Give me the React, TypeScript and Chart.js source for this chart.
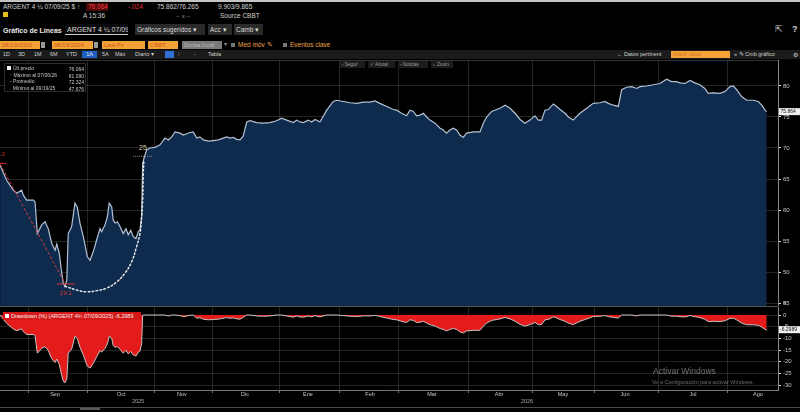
import React, { useEffect, useRef } from "react";
import { Chart, registerables } from "chart.js";

Chart.register(...registerables);

const FONT = '"Liberation Sans", Arial, sans-serif';

// x unit: position on the chart's time axis, in days since 08/19/2025
const priceDays = [
  -0.8, 2.3, 5.5, 7.1, 9.5, 10.3, 11.9, 15.1, 15.9, 17.0, 19.1, 20.7, 22.2, 23.9, 25.5, 26.3, 27.5, 28.7, 29.4, 30.2,
  31.1, 31.8, 33.4, 35.0, 36.1, 37.4, 39.0, 40.9, 42.2, 43.8, 45.4, 47.0, 47.8, 49.4, 50.5, 51.4, 52.6, 53.3, 54.2, 55.3,
  56.6, 58.1, 59.4, 60.5, 61.7, 62.9, 64.2, 65.3, 66.1, 66.9, 67.4, 68.0, 69.3, 70.9, 73.3, 75.7, 78.1, 79.7, 81.3, 82.9,
  85.3, 86.8, 88.5, 90.0, 91.6, 93.3, 94.8, 96.4, 98.8, 101.2, 103.6, 106.0, 107.6, 109.2, 110.8, 112.4, 114.0, 115.5, 117.2, 118.8,
  122.0, 125.1, 128.3, 131.5, 133.9, 136.3, 139.5, 141.1, 142.7, 144.3, 146.7, 148.3, 149.9, 152.2, 155.5, 158.6, 160.2, 163.4, 166.6, 169.8,
  173.0, 176.2, 178.6, 180.9, 184.2, 187.3, 188.9, 191.3, 193.7, 195.3, 196.9, 198.5, 200.1, 201.7, 203.3, 204.9, 207.3, 209.7, 211.2, 212.8,
  214.4, 216.0, 217.6, 219.2, 220.8, 222.4, 225.6, 228.8, 230.4, 232.0, 234.4, 236.8, 238.4, 240.8, 243.2, 245.6, 248.0, 250.3, 252.7, 255.1,
  256.7, 258.3, 259.9, 261.5, 263.9, 265.5, 267.1, 269.5, 271.1, 273.4, 276.6, 279.9, 283.0, 286.2, 288.6, 290.2, 292.6, 295.0, 296.6, 299.0,
  301.4, 303.8, 305.4, 308.6, 311.7, 314.9, 318.1, 320.5, 322.9, 324.5, 326.9, 329.3, 331.6, 334.0, 336.4, 338.0, 340.4, 343.6, 346.0, 348.4,
  350.0, 351.6, 354.0, 356.4, 359.6, 362.0, 363.6, 365.2, 366.0,
];
const priceValues = [
  67.2, 64.8, 63.2, 62.7, 63.2, 62.4, 61.6, 61.6, 61.3, 56.2, 57.6, 58.1, 57.0, 54.6, 53.5, 54.5, 53.0, 49.8, 48.2, 47.676,
  48.7, 56.2, 57.3, 61.1, 60.5, 57.9, 55.7, 52.5, 51.9, 53.3, 55.2, 57.0, 56.5, 57.6, 58.9, 61.1, 60.5, 58.4, 57.9, 58.1,
  57.3, 56.2, 57.0, 56.0, 56.7, 55.7, 55.4, 56.5, 56.8, 58.9, 67.5, 68.3, 69.7, 70.0, 70.1, 70.5, 71.6, 71.3, 71.8, 72.6,
  72.4, 72.1, 72.3, 72.5, 72.6, 71.6, 71.8, 71.3, 71.1, 71.2, 71.3, 71.6, 71.8, 71.6, 71.7, 71.4, 71.3, 71.9, 74.2, 74.4,
  74.1, 74.0, 74.1, 74.4, 74.8, 74.5, 74.1, 74.5, 74.2, 74.1, 74.5, 74.2, 74.6, 74.2, 76.1, 77.5, 77.7, 77.5, 77.3, 77.2,
  77.4, 77.4, 77.6, 77.2, 76.7, 76.2, 76.1, 75.6, 75.2, 76.1, 75.9, 75.2, 75.3, 75.6, 75.0, 74.5, 74.0, 73.2, 72.9, 72.4,
  72.9, 73.2, 72.9, 72.1, 71.7, 72.4, 72.6, 72.6, 74.0, 75.0, 75.9, 76.2, 76.4, 76.9, 76.4, 75.6, 74.6, 74.0, 74.5, 75.2,
  74.5, 74.5, 76.1, 76.2, 77.1, 76.7, 76.2, 75.6, 75.0, 74.5, 75.6, 76.4, 77.2, 77.3, 77.5, 77.2, 76.9, 76.7, 79.4, 79.8,
  79.9, 79.6, 79.9, 80.0, 80.2, 80.4, 81.09, 80.7, 80.7, 80.5, 80.4, 80.9, 80.5, 80.2, 79.6, 78.8, 78.9, 78.8, 79.1, 79.9,
  80.0, 79.4, 78.3, 77.7, 77.7, 77.5, 76.9, 76.1, 75.864,
];

// dotted recovery path (trough -> recovery)
const recoveryDays = [30.2, 35.8, 40.6, 45.4, 50.2, 55.0, 58.9, 62.2, 64.5, 66.1, 66.9, 67.4, 67.7, 68.0];
const recoveryValues = [47.7, 47.1, 46.8, 47.0, 47.4, 48.4, 49.8, 51.7, 54.1, 56.2, 58.9, 61.6, 65.9, 68.1];

// red dashed peak -> trough line
const peakTroughDays = [-0.8, 30.2];
const peakTroughValues = [67.4, 48.2];

const monthStarts = [13.0, 41.2, 73.3, 100.6, 133.1, 161.8, 190.0, 223.1, 253.7, 283.8, 314.0, 347.0];
const monthLabels = ["Sep", "Oct", "Nov", "Dic", "Ene", "Feb", "Mar", "Abr", "May", "Jun", "Jul", "Ago"];
const monthLabelDays = [25.5, 57.2, 86.2, 116.4, 146.5, 176.2, 205.8, 237.9, 268.5, 298.2, 330.7, 361.8];
const yearLabels = ["2025", "2026"];
const yearLabelDays = [65.2, 251.3];

const priceTicks = [45, 50, 55, 60, 65, 70, 75, 80];
const drawdownTicks = [5, 0, -5, -10, -15, -20, -25, -30];

const lastPriceText = "75.864";
const lastPrice = 75.864;
const lastDrawdownText = "-6.2989";
const lastDrawdown = -6.2989;
const maxDrawdownText = "29.1";
const peakText = "67.2";
const recoveryText = "25";

const X_MIN = -0.86;
const X_MAX = 371.4;

function drawdownSeries(values: number[]): number[] {
  let peak = -Infinity;
  return values.map((v) => {
    peak = Math.max(peak, v);
    return (v / peak - 1) * 100;
  });
}

const GRID = "rgba(255,255,255,0.14)";

const mainPlugin = {
  id: "mainAnn",
  afterDraw(chart: any) {
    const { ctx, chartArea, scales } = chart;
    const xs = scales.x;
    const ys = scales.y;
    ctx.save();
    // top border
    ctx.strokeStyle = "#333";
    ctx.lineWidth = 1;
    ctx.beginPath();
    ctx.moveTo(chartArea.left, chartArea.top + 0.5);
    ctx.lineTo(chartArea.right, chartArea.top + 0.5);
    ctx.stroke();

    // trough marker
    const ti = priceValues.indexOf(Math.min(...priceValues));
    const tx = xs.getPixelForValue(priceDays[ti]);
    const ty = ys.getPixelForValue(priceValues[ti]);
    ctx.strokeStyle = "#e03434";
    ctx.beginPath();
    ctx.moveTo(tx - 8, ty - 2.5);
    ctx.lineTo(tx + 10, ty - 2.5);
    ctx.stroke();
    ctx.fillStyle = "#e03434";
    ctx.font = `6px ${FONT}`;
    ctx.textAlign = "center";
    ctx.textBaseline = "middle";
    ctx.fillText(maxDrawdownText, tx + 1, ty + 7);

    // peak marker
    const px = xs.getPixelForValue(priceDays[0]);
    const py = ys.getPixelForValue(priceValues[0]);
    ctx.beginPath();
    ctx.moveTo(px - 6, py - 2);
    ctx.lineTo(px + 6, py - 2);
    ctx.stroke();
    ctx.textAlign = "right";
    ctx.fillText(peakText, px + 5, py - 11);

    // recovery label
    const li = recoveryDays.length - 1;
    const rx = xs.getPixelForValue(recoveryDays[li]);
    const ry = ys.getPixelForValue(recoveryValues[li]);
    ctx.fillStyle = "#d8cc9e";
    ctx.font = `7px ${FONT}`;
    ctx.textAlign = "center";
    ctx.fillText(recoveryText, rx - 1, ry - 12);
    ctx.setLineDash([1, 1]);
    ctx.strokeStyle = "#8a8a8a";
    ctx.beginPath();
    ctx.moveTo(rx - 11, ry - 3.5);
    ctx.lineTo(rx + 8, ry - 3.5);
    ctx.stroke();
    ctx.setLineDash([]);

    // last price box
    const ly = ys.getPixelForValue(lastPrice);
    ctx.fillStyle = "#f0f0f0";
    ctx.fillRect(chartArea.right + 1, ly - 3.5, 21, 7);
    ctx.fillStyle = "#111";
    ctx.font = `5px ${FONT}`;
    ctx.textAlign = "left";
    ctx.fillText(lastPriceText, chartArea.right + 2.5, ly + 0.3);
    ctx.restore();
  },
};

const ddPlugin = {
  id: "ddAnn",
  afterDraw(chart: any) {
    const { ctx, chartArea, scales } = chart;
    const xs = scales.x;
    const ys = scales.y;
    ctx.save();
    ctx.strokeStyle = "#555";
    ctx.lineWidth = 1;
    ctx.beginPath();
    ctx.moveTo(0, chartArea.top - 0.5);
    ctx.lineTo(chartArea.right, chartArea.top - 0.5);
    ctx.stroke();

    ctx.textAlign = "center";
    ctx.textBaseline = "middle";
    ctx.font = `5.5px ${FONT}`;
    ctx.fillStyle = "#c8c8c8";
    monthLabels.forEach((m, i) => {
      ctx.fillText(m, xs.getPixelForValue(monthLabelDays[i]), chartArea.bottom + 4.8);
    });
    ctx.fillStyle = "#a8a8a8";
    yearLabels.forEach((y, i) => {
      ctx.fillText(y, xs.getPixelForValue(yearLabelDays[i]), chartArea.bottom + 11.5);
    });

    const ly = ys.getPixelForValue(lastDrawdown);
    ctx.fillStyle = "#f0f0f0";
    ctx.fillRect(chartArea.right + 1, ly - 3.5, 21, 7);
    ctx.fillStyle = "#111";
    ctx.font = `5px ${FONT}`;
    ctx.textAlign = "left";
    ctx.fillText(lastDrawdownText, chartArea.right + 2, ly + 0.3);
    ctx.restore();
  },
};

const T = ({ x, y, s = 6, c = "#d0d0d0", b = false, children }: any) => (
  <div
    style={{
      position: "absolute",
      left: x,
      top: y,
      fontSize: s,
      color: c,
      fontWeight: b ? 700 : 400,
      whiteSpace: "nowrap",
      lineHeight: 1,
    }}
  >
    {children}
  </div>
);

const Box = ({ x, y, w, h, bg, c = "#d0d0d0", s = 6, border, children, center = false }: any) => (
  <div
    style={{
      position: "absolute",
      left: x,
      top: y,
      width: w,
      height: h,
      background: bg,
      border: border || "none",
      boxSizing: "border-box",
      fontSize: s,
      color: c,
      lineHeight: `${h}px`,
      paddingLeft: center ? 0 : 2,
      textAlign: center ? "center" : "left",
      whiteSpace: "nowrap",
      overflow: "hidden",
    }}
  >
    {children}
  </div>
);

export default function App() {
  const mainRef = useRef<HTMLCanvasElement>(null);
  const ddRef = useRef<HTMLCanvasElement>(null);

  useEffect(() => {
    document.body.style.margin = "0";
    document.body.style.background = "#000";

    const xGrid = (extra: any = {}) => ({
      type: "linear",
      min: X_MIN,
      max: X_MAX,
      afterBuildTicks: (s: any) => {
        s.ticks = monthStarts.map((v) => ({ value: v }));
      },
      afterFit: (s: any) => {
        s.height = 0;
      },
      ticks: { display: false },
      grid: { color: GRID, drawTicks: false, ...extra },
      border: { display: false },
      z: 1,
    });

    const main = new Chart(mainRef.current as HTMLCanvasElement, {
      type: "line",
      data: {
        datasets: [
          {
            data: recoveryDays.map((d, i) => ({ x: d, y: recoveryValues[i] })),
            borderColor: "#e8e8e8",
            borderWidth: 1.5,
            borderDash: [1.6, 2.4],
            borderCapStyle: "round",
            tension: 0.4,
            pointRadius: 0,
            fill: false,
            order: 1,
          },
          {
            data: peakTroughDays.map((d, i) => ({ x: d, y: peakTroughValues[i] })),
            borderColor: "#d83a3a",
            borderWidth: 1,
            borderDash: [3, 2],
            pointRadius: 0,
            fill: false,
            order: 1,
          },
          {
            data: priceDays.map((d, i) => ({ x: d, y: priceValues[i] })),
            borderColor: "#b3c1d2",
            borderWidth: 1.2,
            backgroundColor: "#0e2a4d",
            fill: "start",
            pointRadius: 0,
            tension: 0,
            order: 3,
          },
        ],
      },
      options: {
        responsive: false,
        animation: false,
        events: [],
        layout: { padding: 0 },
        plugins: { legend: { display: false }, tooltip: { enabled: false } },
        scales: {
          x: xGrid() as any,
          y: {
            position: "right",
            min: 44.52,
            max: 84.19,
            afterBuildTicks: (s: any) => {
              s.ticks = priceTicks.map((v) => ({ value: v }));
            },
            afterFit: (s: any) => {
              s.width = 22;
              s.paddingTop = 0;
              s.paddingBottom = 0;
            },
            ticks: {
              color: "#c8c8c8",
              font: { size: 6, family: FONT },
              padding: 2,
              callback: (v: any) => String(v),
            },
            grid: { color: GRID, tickColor: "#e0e0e0", tickLength: 3, drawTicks: true },
            border: { display: true, color: "#8a8a8a" },
            z: 1,
          },
        },
      },
      plugins: [mainPlugin],
    } as any);

    const ddValues = drawdownSeries(priceValues);
    const dd = new Chart(ddRef.current as HTMLCanvasElement, {
      type: "line",
      data: {
        datasets: [
          {
            data: priceDays.map((d, i) => ({ x: d, y: ddValues[i] })),
            borderColor: "#c4c4c4",
            borderWidth: 1,
            backgroundColor: "#e41b1b",
            fill: "origin",
            pointRadius: 0,
            tension: 0,
          },
        ],
      },
      options: {
        responsive: false,
        animation: false,
        events: [],
        layout: { padding: { top: 7, bottom: 22, left: 0, right: 0 } },
        plugins: { legend: { display: false }, tooltip: { enabled: false } },
        scales: {
          x: {
            ...(xGrid({ drawTicks: true, tickLength: 3, tickColor: "#777" }) as any),
            border: { display: true, color: "#777" },
          },
          y: {
            position: "right",
            min: -32.14,
            max: 3.43,
            afterBuildTicks: (s: any) => {
              s.ticks = drawdownTicks.map((v) => ({ value: v }));
            },
            afterFit: (s: any) => {
              s.width = 22;
              s.paddingTop = 0;
              s.paddingBottom = 0;
            },
            ticks: {
              color: "#c8c8c8",
              font: { size: 6, family: FONT },
              padding: 2,
              autoSkip: false,
              callback: (v: any) => String(v),
            },
            grid: {
              color: (c: any) => (c.tick && c.tick.value > 3.43 ? "rgba(0,0,0,0)" : GRID),
              tickColor: "#e0e0e0",
              tickLength: 3,
              drawTicks: true,
            },
            border: { display: true, color: "#8a8a8a" },
            z: 1,
          },
        },
      },
      plugins: [ddPlugin],
    } as any);

    return () => {
      main.destroy();
      dd.destroy();
    };
  }, []);

  const orange = "#f2a236";
  const orangeText = "#d2561c";

  return (
    <div
      style={{
        position: "fixed",
        left: 0,
        top: 0,
        width: 800,
        height: 412,
        background: "#000",
        overflow: "hidden",
        fontFamily: FONT,
      }}
    >
      {/* top strip */}
      <div style={{ position: "absolute", left: 0, top: 0, width: 800, height: 2, background: "#c4c4c4" }} />

      {/* row 1 */}
      <T x={3} y={4} s={6.5}>ARGENT 4 ¼ 07/09/25 $ ↑</T>
      <Box x={86} y={3} w={22} h={8} bg="#4a0a0a" c="#ff3a3a" s={6.5}>76.064</Box>
      <T x={128} y={4} s={6.5} c="#e03030">-.024</T>
      <T x={157} y={4} s={6.5}>75.862/76.265</T>
      <T x={218} y={4} s={6.5}>9.903/9.865</T>
      {/* row 2 */}
      <div style={{ position: "absolute", left: 3, top: 12, width: 5, height: 5, background: "#e2c020" }} />
      <T x={83} y={13} s={6.5}>A 15:36</T>
      <T x={176} y={13} s={6} c="#999">-- x --</T>
      <T x={220} y={13} s={6.5}>Source CBBT</T>

      {/* row 3 */}
      <T x={3} y={26.5} s={7} b c="#e8e8e8">Gráfico de Líneas</T>
      <Box x={65} y={24} w={63} h={11} bg="#0c0c0c" border="none" s={7} c="#dcdcdc">ARGENT 4 ¼ 07/09/</Box>
      <div style={{ position: "absolute", left: 65, top: 34, width: 63, height: 1, background: "#cfcfcf" }} />
      <Box x={135} y={24} w={70} h={11} bg="#2a2a2a" s={6.5} c="#d8d8d8">Gráficos sugeridos ▾</Box>
      <Box x={208} y={24} w={24} h={11} bg="#2a2a2a" s={6.5} c="#d8d8d8">Acc ▾</Box>
      <Box x={234} y={24} w={29} h={11} bg="#2a2a2a" s={6.5} c="#d8d8d8">Camb ▾</Box>
      <T x={775} y={25} s={9} c="#cfcfcf">⇱</T>
      <T x={792} y={25} s={9} c="#cfcfcf" b>?</T>

      {/* row 4 */}
      <Box x={0} y={41} w={40} h={8} bg={orange} c={orangeText} s={6}>08/19/2025</Box>
      <div style={{ position: "absolute", left: 41, top: 42, width: 4, height: 6, background: "#9a9a9a" }} />
      <Box x={52} y={41} w={41} h={8} bg={orange} c={orangeText} s={6}>08/19/2026</Box>
      <div style={{ position: "absolute", left: 94, top: 42, width: 4, height: 6, background: "#9a9a9a" }} />
      <Box x={102} y={41} w={43} h={8} bg={orange} c={orangeText} s={6}>Last Px</Box>
      <Box x={148} y={41} w={30} h={8} bg={orange} c={orangeText} s={6}>CBBT</Box>
      <Box x={182} y={41} w={40} h={8} bg="#7a7a7a" c="#b4b4b4" s={6}>Divisa local</Box>
      <T x={224} y={42} s={5.5} c="#999">▾</T>
      <div style={{ position: "absolute", left: 231, top: 43, width: 4, height: 4, background: "#777" }} />
      <T x={238} y={42} s={6.5} c="#eea44a">Med móv ✎</T>
      <div style={{ position: "absolute", left: 283, top: 43, width: 4, height: 4, background: "#777" }} />
      <T x={290} y={42} s={6.5} c="#eea44a">Eventos clave</T>

      {/* row 5 */}
      <div style={{ position: "absolute", left: 0, top: 50, width: 800, height: 9, background: "#1b1b1b" }} />
      <T x={3} y={52} s={5.5}>1D</T>
      <T x={18} y={52} s={5.5}>3D</T>
      <T x={34} y={52} s={5.5}>1M</T>
      <T x={50} y={52} s={5.5}>6M</T>
      <T x={66} y={52} s={5.5}>YTD</T>
      <Box x={82} y={51} w={15} h={7} bg="#1f5ec4" c="#e8e8e8" s={5.5} center>1A</Box>
      <T x={102} y={52} s={5.5}>5A</T>
      <T x={115} y={52} s={5.5}>Máx</T>
      <T x={135} y={52} s={5.5}>Diario ▾</T>
      <div style={{ position: "absolute", left: 165, top: 51, width: 9, height: 7, background: "#2f6fd6" }} />
      <T x={178} y={52} s={5.5}>⁞</T>
      <T x={194} y={52} s={5.5}>-</T>
      <T x={208} y={52} s={5.5}>Tabla</T>
      <T x={617} y={52} s={5.5}>← Datos pertinent</T>
      <Box x={671} y={51} w={59} h={7} bg={orange} c="#d27a2a" s={5}>Añadir datos</Box>
      <T x={734} y={52} s={5.5}>« ✎ Cmb gráfico</T>
      <T x={793} y={51.5} s={6}>⚙</T>

      <canvas
        ref={mainRef}
        width={800}
        height={246}
        style={{ position: "absolute", left: 0, top: 60, width: 800, height: 246, display: "block" }}
      />
      <canvas
        ref={ddRef}
        width={800}
        height={112}
        style={{ position: "absolute", left: 0, top: 300, width: 800, height: 112, display: "block" }}
      />

      {/* chart toolbar */}
      <Box x={340} y={61} w={25} h={7} bg="#1c1c1c" c="#a0a0a0" s={4.5}>▫ Seguir</Box>
      <Box x={368} y={61} w={27} h={7} bg="#1c1c1c" c="#a0a0a0" s={4.5}>✓ Anotar</Box>
      <Box x={398} y={61} w={30} h={7} bg="#1c1c1c" c="#a0a0a0" s={4.5}>▫ Noticias</Box>
      <Box x={431} y={61} w={22} h={7} bg="#1c1c1c" c="#a0a0a0" s={4.5}>⌕ Zoom</Box>

      {/* legend */}
      <div
        style={{
          position: "absolute",
          left: 4,
          top: 63,
          width: 82,
          height: 29,
          border: "1px solid #2c2c2c",
          boxSizing: "border-box",
          background: "rgba(0,0,0,0.85)",
        }}
      />
      <div style={{ position: "absolute", left: 7, top: 66, width: 4, height: 4, background: "#f0f0f0" }} />
      <T x={13} y={65.8} s={5} c="#c8c8c8">Últ precio</T>
      <T x={10} y={72.5} s={5} c="#c8c8c8">⁻ Máximo al 07/06/26</T>
      <T x={10} y={79.2} s={5} c="#c8c8c8">- Promedio</T>
      <T x={10} y={86} s={5} c="#c8c8c8">. Mínimo al 09/19/25</T>
      <div style={{ position: "absolute", left: 55, top: 65.8, width: 29, textAlign: "right", fontSize: 5, color: "#c8c8c8", lineHeight: "6.7px" }}>
        76.064<br />81.090<br />72.324<br />47.676
      </div>

      {/* drawdown title */}
      <Box x={3} y={312} w={138} h={8} bg="#d41818" c="#f4f4f4" s={5.5}>
        <span style={{ display: "inline-block", width: 4, height: 4, background: "#fff", marginRight: 2 }} />
        Drawdown (%) (ARGENT 4¾ 07/09/2025) -6.2989
      </Box>

      {/* watermark */}
      <T x={653} y={367} s={8.5} c="rgba(255,255,255,0.42)">Activar Windows</T>
      <T x={652} y={379.5} s={5.5} c="rgba(255,255,255,0.38)">Ve a Configuración para activar Windows.</T>

      {/* bottom scroll strip */}
      <div style={{ position: "absolute", left: 0, top: 407, width: 800, height: 1, background: "#4a4a4a" }} />
      <div style={{ position: "absolute", left: 80, top: 408, width: 20, height: 2, background: "#5a5a5a" }} />
    </div>
  );
}
